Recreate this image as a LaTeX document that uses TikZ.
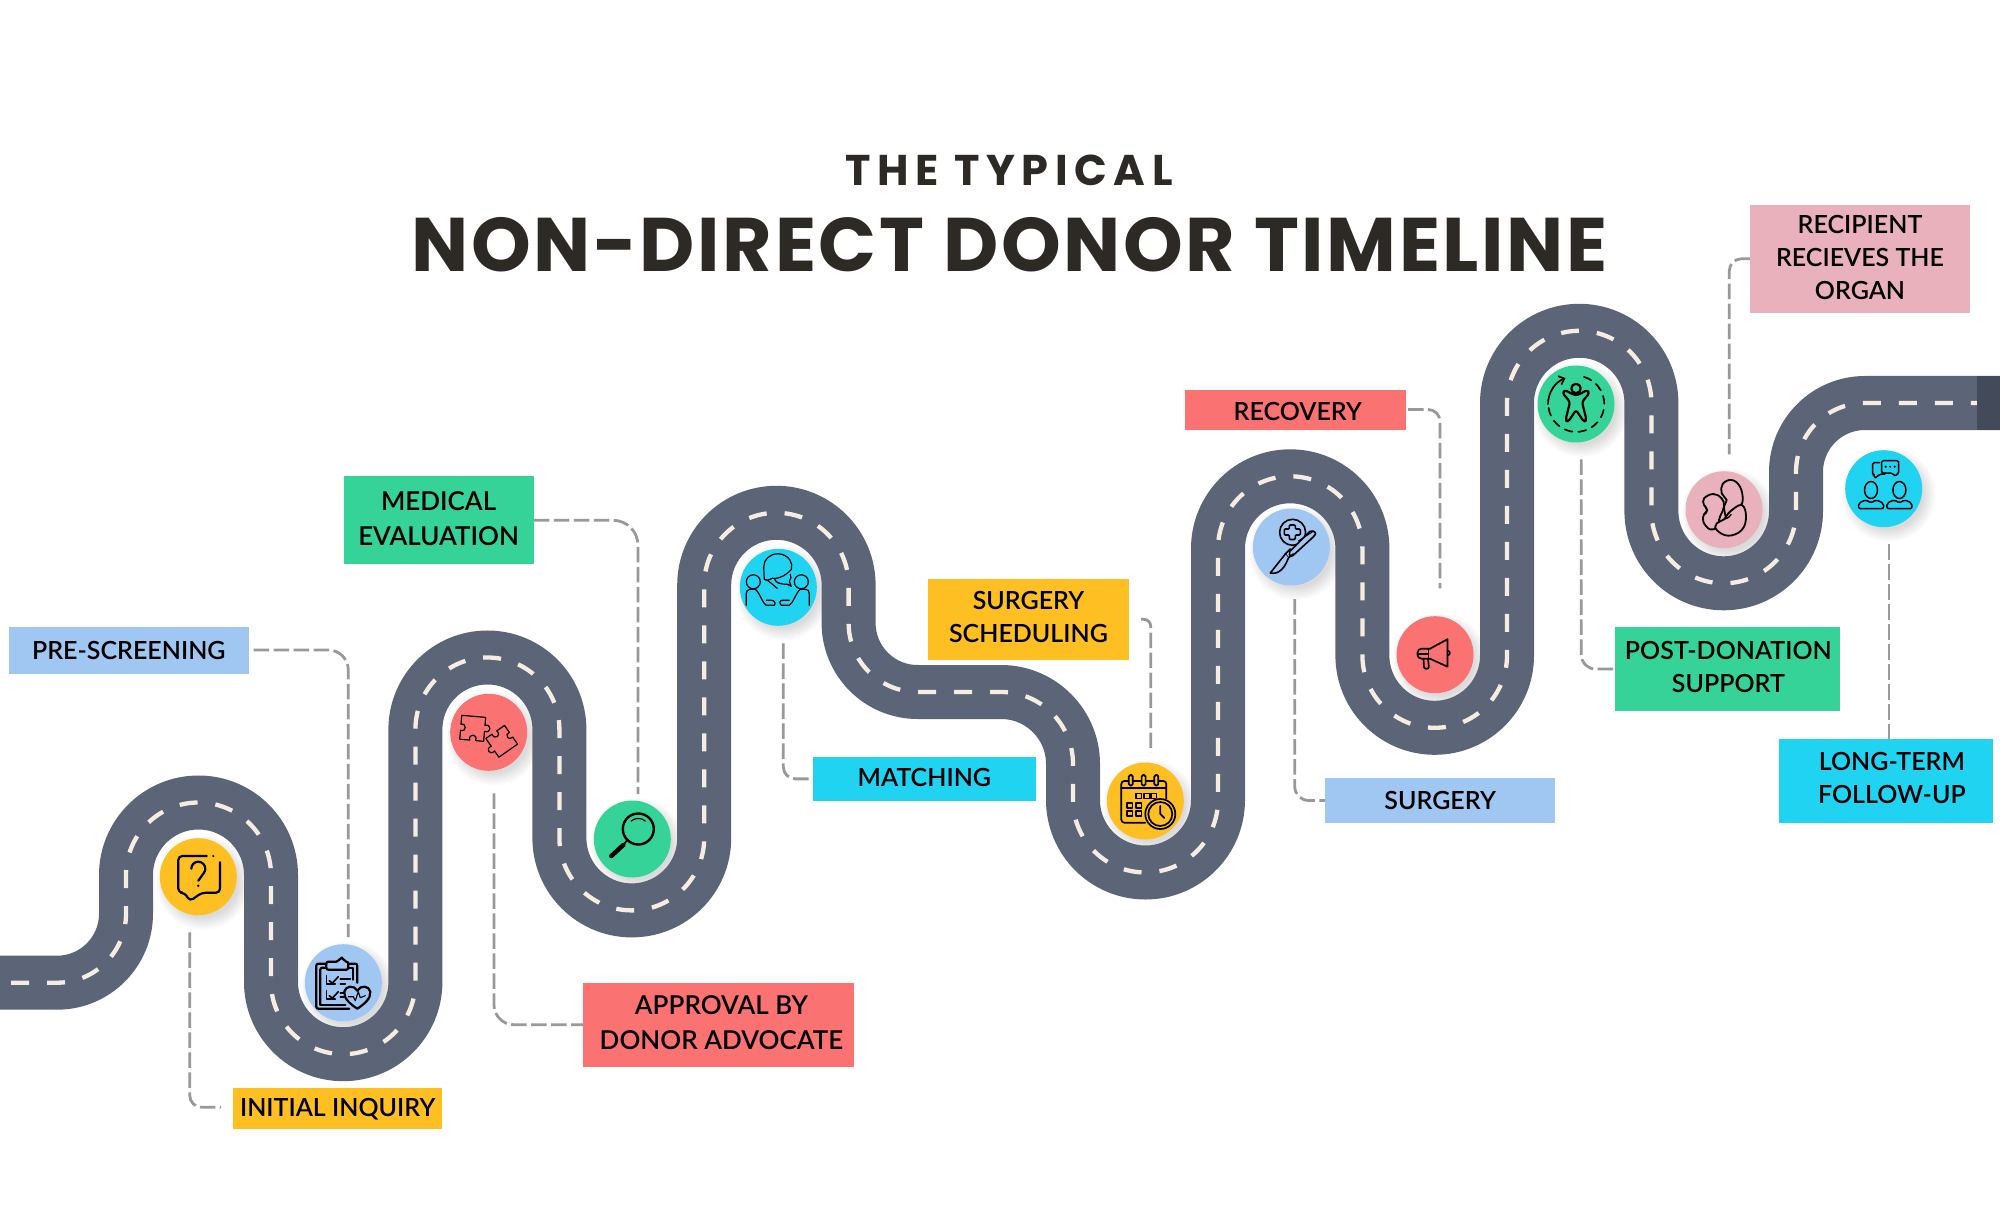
\documentclass[tikz,border=0pt]{standalone}
\usepackage{fontspec}
\setmainfont{Lato Semibold}
\newfontfamily\titlefont[LetterSpace=3.5]{Poppins Bold}
\newfontfamily\subfont[LetterSpace=15.3]{Poppins Bold}
\usetikzlibrary{arrows.meta}
\definecolor{roadc}{HTML}{5C6477}
\definecolor{roadend}{HTML}{434A59}
\definecolor{markc}{HTML}{F6EDE2}
\definecolor{yel}{HTML}{FDBF22}
\definecolor{blu}{HTML}{A0C6F2}
\definecolor{grn}{HTML}{36D399}
\definecolor{redc}{HTML}{FA7272}
\definecolor{cya}{HTML}{20D3F0}
\definecolor{pnk}{HTML}{E8B1BB}
\definecolor{conc}{HTML}{999999}
\definecolor{inkc}{HTML}{2D2A26}
\tikzset{
 stepdot/.style={circle,inner sep=0pt,minimum size=77pt},
 tag/.style={rectangle,inner sep=0pt,text=black,font=\fontsize{25}{33}\selectfont},
 tagwide/.style={tag,font=\fontsize{26}{35}\selectfont},
 conn/.style={draw=conc,line width=2.8pt,dash pattern=on 15.5pt off 4.5pt},
 icon/.style={line width=2.2pt,line join=round,line cap=round},
 thin icon/.style={line width=1.2pt,line join=round,line cap=round},
}
\newcommand{\tagtext}[3]{\raisebox{#2pt}[\height][\depth]{\kern#1pt\begin{tabular}{@{}c@{}}#3\end{tabular}\kern-#1pt}}
\newcommand{\tagbox}[7][tag]{%
 \node[#1,fill=#7,minimum width=#5pt-#3pt,minimum height=#6pt-#4pt] (#2) at ({(#3+#5)/2},{-(#4+#6)/2})}
\begin{document}
\begin{tikzpicture}[x=1pt,y=1pt]
\useasboundingbox (0,0) rectangle (2000,-1214);
\fill[white] (0,0) rectangle (2000,-1214);
% circle positions and shadows
\foreach \n/\x/\y in {p1/198.3/876.7,p2/343.3/982.7,p3/488.7/732.3,p4/632.3/839,p5/778.3/587.3,p6/1145.3/801,p7/1291.3/547,p8/1435/654.7,p9/1576/404,p10/1724/509.7,p11/1883.7/488.7}{
 \coordinate (\n) at (\x,-\y);
 \foreach \r in {35,36.5,...,47}{
  \fill[black,opacity=.014] ([shift={(5,-6)}]\n) circle[radius=\r pt];
 }
}
% road
\def\roadpath{(0,-982.7) -- (57,-982.7) arc[start angle=-90,end angle=0,radius=69pt]
 -- (126,-875) arc[start angle=180,end angle=0,radius=72.5pt]
 -- (271,-982) arc[start angle=180,end angle=360,radius=72.2pt]
 -- (415.4,-729.5) arc[start angle=180,end angle=0,radius=72pt]
 -- (559.4,-838) arc[start angle=180,end angle=360,radius=72.4pt]
 -- (704.2,-585) arc[start angle=180,end angle=0,radius=72.2pt]
 -- (848.6,-623) arc[start angle=180,end angle=270,radius=69pt]
 -- (1001,-692) arc[start angle=90,end angle=0,radius=72pt]
 -- (1073,-800) arc[start angle=180,end angle=360,radius=72.5pt]
 -- (1218,-548.5) arc[start angle=180,end angle=0,radius=72.2pt]
 -- (1362.4,-655.5) arc[start angle=180,end angle=360,radius=72.3pt]
 -- (1507,-403) arc[start angle=180,end angle=0,radius=72.2pt]
 -- (1651.4,-511) arc[start angle=180,end angle=360,radius=72.3pt]
 -- (1796,-472) arc[start angle=180,end angle=90,radius=69pt]
 -- (2000,-403)}
\draw[roadc,line width=54pt] \roadpath;
\draw[markc,line width=4.3pt,dash pattern=on 18pt off 18pt,dash phase=25pt] \roadpath;
\fill[roadend] (1976.7,-376) rectangle (2000,-430);
% circles
\foreach \n/\c in {1/yel,2/blu,3/redc,4/grn,5/cya,6/yel,7/blu,8/redc,9/grn,10/pnk,11/cya}{
 \node[stepdot,fill=\c] (i\n) at (p\n) {};
}
% icon 1: question bubble
\begin{scope}[shift={(i1.center)},icon]
 \draw[rounded corners=4pt] (8.5,20.7) -- (-20,20.7) -- (-20,-16) -- (-13.5,-16) -- (-8.5,-24.5) -- (3.5,-16) -- (21.7,-16) -- (21.7,14.5);
 \fill (15,20.7) circle[radius=1.2pt];
 \draw (-7,8) arc[start angle=180,end angle=-40,radius=7pt] -- (0,-4);
 \fill (0,-9) circle[radius=1.4pt];
\end{scope}
% icon 2: clipboard with heart
\begin{scope}[shift={(i2.center)},icon]
 \draw[rounded corners=2pt] (-17,19) -- (-27,19) -- (-27,-26) -- (6,-26);
 \draw[rounded corners=2pt] (-23,-22) -- (-23,15) -- (-17,15);
 \draw[rounded corners=2pt] (5,19) -- (14,19) -- (14,0);
 \draw (5,15) -- (10,15) -- (10,3);
 \draw (-23,-22) -- (2,-22);
 \draw[rounded corners=2pt] (-17,13) -- (-17,21) -- (-5,21) -- (-3,25) -- (0,25) -- (1,21) -- (5,21) -- (5,13) -- cycle;
 \draw[line width=1.6pt] (-17,7) -- (-17,-1) -- (-8,-1);
 \draw[line width=1.6pt] (-14,2) -- (-11,-0.5) -- (-5,6);
 \draw[line width=1.6pt] (-3,4) -- (7,4) (-3,-1) -- (2,-1);
 \draw[line width=1.6pt] (-17,-8) -- (-17,-16) -- (-8,-16);
 \draw[line width=1.6pt] (-14,-13) -- (-11,-15.5) -- (-5,-9);
 \draw[line width=1.6pt] (-3,-10) -- (1,-10) (-3,-14) -- (1,-14);
 \draw[fill=blu] (14,-26) .. controls (8,-22) and (0,-16) .. (1,-9) .. controls (2,-3) and (11,-2) .. (14,-8) .. controls (17,-2) and (26,-3) .. (27,-9) .. controls (28,-16) and (20,-22) .. (14,-26) -- cycle;
 \draw[line width=1.1pt] (5,-14) -- (10,-14) -- (12,-18) -- (15,-9) -- (17,-15) -- (22,-13);
\end{scope}
% icon 3: puzzle
\def\puzzle{(-12,12) -- (12,12) -- (12,4) .. controls (19,6) and (19,-4) .. (12,-2) -- (12,-12) -- (4,-12) .. controls (6,-5) and (-4,-5) .. (-2,-12) -- (-12,-12) -- (-12,-3) .. controls (-6,-5) and (-6,5) .. (-12,3) -- cycle}
\begin{scope}[shift={(i3.center)},thin icon]
 \draw[shift={(-16,4)},rotate=-5] \puzzle;
 \draw[shift={(13,-9)},rotate=-145,scale=.95] \puzzle;
\end{scope}
% icon 4: magnifier
\begin{scope}[shift={(i4.center)},icon]
 \draw[line width=2.4pt] (6,10) circle[radius=15.5pt];
 \draw[line width=1.2pt] (13,18) arc[start angle=50,end angle=130,radius=11pt];
 \draw[line width=1.8pt] (-5,-1) -- (-9,-6);
 \draw[line width=4.5pt] (-9,-6) -- (-21,-17);
\end{scope}
% icon 5: people talking
\begin{scope}[shift={(i5.center)},thin icon]
 \draw (-1,-1) .. controls (-2,-1) and (-10,8) .. (-14,8) .. controls (-14,12) and (-14.5,12) .. (-14.5,21) arc[start angle=180,end angle=-15,x radius=14pt,y radius=12.5pt] .. controls (6,10) and (-3,8) .. (-6,9) .. controls (-8,8) and (-12,6) .. (-14,8);
 \draw (-4,9) .. controls (-3,4) and (3,3) .. (9,3) -- (13,1) -- (11,6) .. controls (13,8) and (13,11) .. (12,13);
 \draw (-25,5.5) circle[radius=7pt];
 \draw (23,5.5) circle[radius=7pt];
 \draw (-32,-18) -- (-32,-6) .. controls (-32,-1) and (-26,-2) .. (-23,-2) .. controls (-18,-6) and (-16,-16) .. (-12,-18) -- (-4,-18) .. controls (-2,-16) and (-4,-13) .. (-7,-13) -- (-12,-13);
 \draw (31,-18) -- (31,-6) .. controls (31,-1) and (25,-2) .. (22,-2) .. controls (17,-6) and (15,-16) .. (11,-18) -- (3,-18) .. controls (1,-16) and (1,-13) .. (4,-13) -- (11,-13);
\end{scope}
% icon 6: calendar and clock
\begin{scope}[shift={(i6.center)},icon,line width=1.7pt]
 \draw[rounded corners=3pt] (0,-21.7) -- (-24,-21.7) -- (-24,20) -- (21,20) -- (21,2);
 \draw (-24,13) -- (21,13);
 \foreach \a in {-14.5,-1.7,11}{
  \draw[fill=yel,rounded corners=1.5pt] (\a-2,15.5) rectangle (\a+2,26);
 }
 \foreach \a/\b in {-9/7.5,-1/7.5,6/7.5,-18/-2,-9/-2,-18/-10,-9/-10}{
  \draw (\a,\b) rectangle ++(5.2,-5);
 }
 \fill[yel] (15,-13) circle[radius=16pt];
 \draw (15,-13) circle[radius=15pt];
 \draw (15,-13) circle[radius=12pt];
 \draw (15,-5) -- (15,-13) -- (19,-17);
\end{scope}
% icon 7: scalpel and cross
\begin{scope}[shift={(i7.center)},icon,line width=1.6pt]
 \draw (1.3,14.7) circle[radius=13pt];
 \draw[rounded corners=1pt] (-2,22) -- (4,22) -- (4,18) -- (9,18) -- (9,12) -- (4,12) -- (4,7.5) -- (-2,7.5) -- (-2,12) -- (-7,12) -- (-7,18) -- (-2,18) -- cycle;
 \draw[fill=blu,rounded corners=2pt] (-3,-6) -- (20,17) -- (25,14) -- (23,11) -- (0,-10) -- cycle;
 \draw (-1,-2) -- (-6,-7) -- (-3,-11) -- (2,-7);
 \draw[fill=blu] (-6,-7) -- (-21,-26) .. controls (-12,-28) and (-6,-20) .. (-3,-11);
 \draw[line width=1pt] (7,6) -- (21,15);
\end{scope}
% icon 8: megaphone
\begin{scope}[shift={(i8.center)},icon,line width=1.7pt]
 \draw (-5,6) -- (12.5,15.5) -- (12.5,-12) -- (-5,-4);
 \draw[rounded corners=4pt] (-5,6) -- (-17.5,6) -- (-17.5,-4) -- (-5,-4);
 \draw (-6.5,6) -- (-6.5,-4);
 \draw (-17,1) -- (-6.5,1);
 \draw[rounded corners=2pt] (-11.5,-4) -- (-11,-14) -- (-6,-14) -- (-7,-4);
 \draw (12.5,4) arc[start angle=90,end angle=-90,radius=2.3pt];
\end{scope}
% icon 9: person in a ring
\begin{scope}[shift={(i9.center)},icon]
 \draw (0,15.5) circle[radius=4.7pt];
 \draw[rounded corners=2.5pt] (-2,9) -- (-11,14) -- (-13.5,11) -- (-6,2) -- (-10.5,-16) -- (-8,-18) -- (0,-6) -- (8,-18) -- (10.5,-16) -- (6,2) -- (13.5,11) -- (11,14) -- (2,9) -- cycle;
 \draw[-{Straight Barb[length=5pt,width=9pt]},line width=1.7pt] (-28,0) arc[start angle=180,end angle=112,radius=28pt];
 \draw[line width=1.7pt,dash pattern=on 8pt off 6pt] (8,27) arc[start angle=74,end angle=-180,radius=28pt];
\end{scope}
% icon 10: kidney beans
\begin{scope}[shift={(i10.center)},icon,line width=1.8pt]
 \draw plot[smooth cycle,tension=.7] coordinates {(-10.7,15.7) (-2.3,11.3) (0,3) (-4,-7) (-7.3,-17) (-14,-19.7) (-20.7,-12) (-20,-4.7) (-16.7,-0.3) (-20,4.7) (-20,11.3)};
 \draw[fill=pnk] plot[smooth cycle,tension=.7] coordinates {(7.7,29.7) (16,23) (18.7,9.7) (15,3) (6,-2) (2.7,-8.7) (0,3) (2.7,9.7) (-2.3,16.3) (-1.3,25.7)};
 \draw[fill=pnk] plot[smooth cycle,tension=.7] coordinates {(17.7,4.7) (22,-7) (17.7,-20.3) (4.3,-26) (-7.3,-20.3) (-7.3,-13.7) (0,-9.7) (6,-2)};
 \draw[line width=1.4pt] (-20,-4.7) .. controls (-17,-4) and (-16,-1) .. (-19,4);
 \draw[line width=1.4pt] (0,-9.7) .. controls (3,-8) and (6,-8) .. (7,-5);
\end{scope}
% icon 11: two people talking
\begin{scope}[shift={(i11.center)},icon,line width=1.5pt]
 \foreach \a in {-12.7,15.7}{
  \draw (\a,-1.3) ellipse[x radius=6.5pt,y radius=8.5pt];
  \draw[rounded corners=2pt] (\a-12.5,-20) -- (\a-12.5,-14.5) -- (\a-5,-11) -- (\a,-14.5) -- (\a+5,-11) -- (\a+12.5,-14.5) -- (\a+12.5,-20) -- cycle;
 }
 \draw[rounded corners=1.5pt] (-4,26) -- (-11,26) -- (-11,13.7) -- (-9,13.7) -- (-9,10) -- (-4,14.5) -- (1,14.5);
 \draw[fill=cya,rounded corners=1.5pt] (-2,28) -- (15,28) -- (15,15) -- (13,15) -- (11.5,12) -- (9,15.5) -- (-2,15.5) -- cycle;
 \foreach \a in {2,6.5,11}{\fill (\a,22) circle[radius=1.2pt];}
\end{scope}
% title
\node[text=inkc,font=\subfont\fontsize{43}{43}\selectfont,anchor=base] (subt) at (1009,-186) {THE TYPICAL};
\node[text=inkc,font=\titlefont\fontsize{76}{76}\selectfont,anchor=base] (maint) at (1009.5,-272) {NON-DIRECT DONOR TIMELINE};
% labels
\tagbox{l1}{233}{1088.3}{442.3}{1128.7}{yel} {\tagtext{0}{-1}{INITIAL INQUIRY}};
\tagbox{l2}{9}{627}{248.6}{673.7}{blu} {\tagtext{0}{-3}{PRE-SCREENING}};
\tagbox[tagwide]{l3}{343.6}{476}{533.6}{564.3}{grn} {\tagtext{0}{-0.5}{MEDICAL\\EVALUATION}};
\tagbox[tagwide]{l4}{583}{983}{854}{1066.5}{redc} {\tagtext{3}{0}{APPROVAL BY\\DONOR ADVOCATE}};
\tagbox{l5}{813}{757}{1035.7}{800.7}{cya} {\tagtext{0}{-1.5}{MATCHING}};
\tagbox{l6}{928}{579.3}{1129}{660}{yel} {\tagtext{0}{0.5}{SURGERY\\SCHEDULING}};
\tagbox{l7}{1185}{390}{1405.6}{430}{redc} {\tagtext{2.5}{-3.5}{RECOVERY}};
\tagbox{l8}{1325.3}{778.3}{1555}{822.7}{blu} {\tagtext{0}{-2.5}{SURGERY}};
\tagbox{l9}{1615}{627}{1839.7}{711}{grn} {\tagtext{1}{0}{POST-DONATION\\SUPPORT}};
\tagbox{l10}{1779}{739.3}{1992.7}{822.7}{cya} {\tagtext{6}{0.5}{LONG-TERM\\FOLLOW-UP}};
\tagbox{l11}{1750}{204.7}{1970}{313}{pnk} {\tagtext{0}{-1}{RECIPIENT\\RECIEVES THE\\ORGAN}};
% connector free ends
\coordinate (c1a) at (189.7,-932.3);  \coordinate (c1b) at (221,-1107.3);
\coordinate (c2a) at (253.6,-650);    \coordinate (c2b) at (348.3,-937);
\coordinate (c3b) at (638,-794);
\coordinate (c4a) at (494,-793.3);
\coordinate (c5a) at (783.3,-643.3);
\coordinate (c6a) at (1141,-619.3);   \coordinate (c6b) at (1150.7,-752.7);
\coordinate (c7a) at (1408,-409.5);   \coordinate (c7b) at (1440,-588.3);
\coordinate (c8a) at (1294.7,-599);
\coordinate (c9a) at (1581.3,-459.3);
\coordinate (c10b) at (1729.3,-454.3);
\coordinate (c11a) at (1889,-544);
\draw[conn,rounded corners=12pt] (c1a) |- (c1b);
\draw[conn,rounded corners=20pt] (c2a) -| (c2b);
\draw[conn,rounded corners=25pt] (l3.east |- 0,-520.3) -| (c3b);
\draw[conn,rounded corners=20pt] (c4a) |- (l4.west);
\draw[conn,rounded corners=12pt] (c5a) |- (l5.west);
\draw[conn,rounded corners=7pt] (c6a) -| (c6b);
\draw[conn,rounded corners=12pt] (c7a) -| (c7b);
\draw[conn,rounded corners=14pt] (c8a) |- (l8.west);
\draw[conn,rounded corners=14pt] (c9a) |- (l9.west);
\draw[conn,rounded corners=12pt] (l11.west) -| (c10b);
\draw[conn] (c11a) -- (c11a |- l10.north);
\end{tikzpicture}
\end{document}
